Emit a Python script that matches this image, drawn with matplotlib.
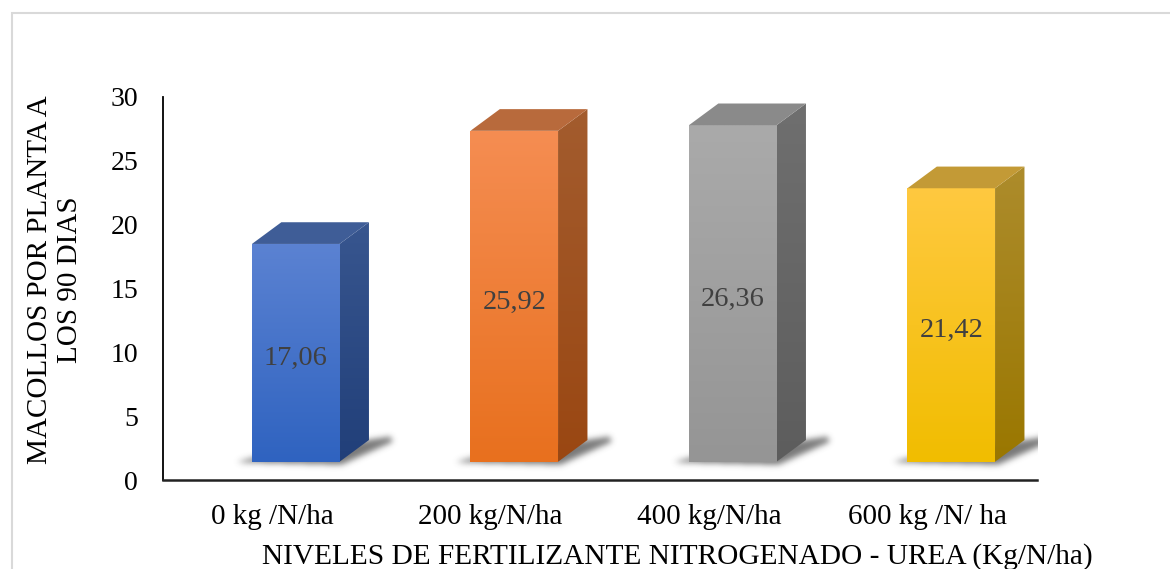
import numpy as np
import matplotlib.pyplot as plt
from matplotlib.patches import Polygon, Rectangle
from matplotlib.path import Path
from matplotlib.colors import to_rgb

niveles = ['0 kg /N/ha', '200 kg/N/ha', '400 kg/N/ha', '600 kg /N/ ha']
macollos = [17.06, 25.92, 26.36, 21.42]
etiquetas = ['17,06', '25,92', '26,36', '21,42']

# colores de cada barra: frente (abajo, arriba), lateral (abajo, arriba), tapa
frente = [('#2f63c0', '#5b82d2'), ('#e8701e', '#f58d52'),
          ('#959595', '#aaaaaa'), ('#f1bd00', '#ffc940')]
lateral = [('#213f79', '#38568f'), ('#9a4712', '#a35c2e'),
           ('#5d5d5d', '#6f6f6f'), ('#9a7700', '#ad8c2c')]
tapa = ['#3f5d97', '#b86a3c', '#8a8a8a', '#c39a36']

plt.rcParams['font.family'] = ['Liberation Serif', 'DejaVu Serif']

fig = plt.figure(figsize=(11.7, 5.69), dpi=100)
ax = fig.add_axes([163/1170, 1-480/569, 874/1170, 383/569])

# borde gris del area del grafico
fig.patches.append(Rectangle((12/1170, -0.2), 1.2, 0.977+0.2, transform=fig.transFigure,
                             fill=False, ec='#d9d9d9', lw=1.5, zorder=0))

off = 0.1075   # desplazamiento del frente respecto a la categoria
hw = 0.2005    # media anchura del frente
dx = 0.1346    # profundidad en x
dy = 1.70      # profundidad en y
y0 = 1.43      # base del frente
px_x = 218.5   # pixeles por categoria
px_y = 12.77   # pixeles por unidad


def gradiente(pts, c_bajo, c_alto, z):
    poly = Polygon(pts, closed=True, fc='none', ec='none')
    ax.add_patch(poly)
    a = np.array(to_rgb(c_bajo))
    b = np.array(to_rgb(c_alto))
    t = np.linspace(0, 1, 200)[:, None]
    img = (a + (b - a) * t)[:, None, :]
    xs = [p[0] for p in pts]
    ys = [p[1] for p in pts]
    im = ax.imshow(img, extent=[min(xs), max(xs), min(ys), max(ys)],
                   origin='lower', aspect='auto', zorder=z, interpolation='bilinear')
    im.set_clip_path(poly)


def desenfoque(m, s):
    k = np.exp(-0.5 * (np.arange(-3 * s, 3 * s + 1) / s) ** 2)
    k /= k.sum()
    m = np.apply_along_axis(lambda r: np.convolve(r, k, mode='same'), 1, m)
    m = np.apply_along_axis(lambda c: np.convolve(c, k, mode='same'), 0, m)
    return m


def sombra(pts):
    xs = [p[0] for p in pts]
    ys = [p[1] for p in pts]
    ext = [min(xs) - 0.12, max(xs) + 0.12, min(ys) - 1.2, max(ys) + 1.2]
    nx = int((ext[1] - ext[0]) * px_x * 2)
    ny = int((ext[3] - ext[2]) * px_y * 2)
    gx, gy = np.meshgrid(np.linspace(ext[0], ext[1], nx), np.linspace(ext[2], ext[3], ny))
    m = Path(pts).contains_points(np.c_[gx.ravel(), gy.ravel()]).reshape(ny, nx)
    m = desenfoque(m.astype(float), 6)
    img = np.zeros((ny, nx, 4))
    img[..., :3] = 0.3
    img[..., 3] = m * 0.75
    ax.imshow(img, extent=ext, origin='lower', aspect='auto', zorder=1,
              interpolation='bilinear')


for i, v in enumerate(macollos):
    xl = i + off - hw
    xr = i + off + hw
    yt = y0 + v

    # sombra difusa en el piso
    sombra([(xl - 0.07, y0 - 0.05), (xr + 0.01, y0 - 0.25),
            (xr + dx + 0.11, y0 + dy - 0.15), (xr + dx + 0.1, y0 + dy + 0.25),
            (xl + 0.02, y0 + 0.35)])

    gradiente([(xl, y0), (xr, y0), (xr, yt), (xl, yt)], frente[i][0], frente[i][1], 3)
    gradiente([(xr, y0), (xr + dx, y0 + dy), (xr + dx, yt + dy), (xr, yt)],
              lateral[i][0], lateral[i][1], 3)
    ax.add_patch(Polygon([(xl, yt), (xr, yt), (xr + dx, yt + dy), (xl + dx, yt + dy)],
                         closed=True, fc=tapa[i], ec='none', zorder=3))

    ax.text(i + off, y0 + v / 2 - 0.45, etiquetas[i], ha='center', va='center',
            fontsize=20.5, color='#404040', zorder=5)

ax.set_xlim(-0.5, 3.5)
ax.set_ylim(0, 30)
ax.set_xticks(range(len(niveles)))
ax.set_xticklabels(niveles)
ax.set_yticks(range(0, 31, 5))
ax.tick_params(axis='x', length=0, pad=17, labelsize=21)
ax.tick_params(axis='y', length=0, pad=18, labelsize=20)
for s in ['top', 'right']:
    ax.spines[s].set_visible(False)
ax.spines['left'].set_linewidth(1.3)
ax.spines['bottom'].set_linewidth(1.8)
ax.spines['bottom'].set_color('#222222')
ax.patch.set_alpha(0)

fig.text(55/1170, 1-280/569, 'MACOLLOS POR PLANTA A\nLOS 90 DIAS', rotation=90,
         ha='center', va='center', multialignment='center', fontsize=21, linespacing=1.2)
fig.text(677/1170, 1-557/569, 'NIVELES DE FERTILIZANTE NITROGENADO - UREA (Kg/N/ha)',
         ha='center', va='center', fontsize=21.2)

fig.savefig('out.png', dpi=100)
